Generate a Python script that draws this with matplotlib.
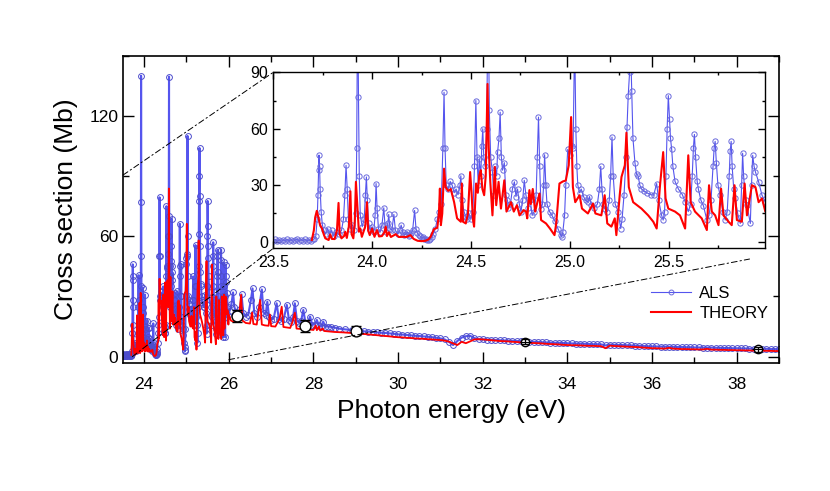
"""ALS photoionization cross section vs. theory, with a zoom of the resonance region.

Run: ``python3 plot.py`` -> out.png
"""

import numpy as np
import matplotlib

matplotlib.use("Agg")
import matplotlib.pyplot as plt  # noqa: E402
from matplotlib.patches import ConnectionPatch  # noqa: E402
from matplotlib.ticker import MultipleLocator  # noqa: E402

plt.rcParams["font.family"] = ["Liberation Sans", "DejaVu Sans"]

# ---- data: (photon energy eV, cross section Mb) ------------------------------------
# ALS measurement, resonance region (vertices of the trace)
als_resonances = [
    (23.50, 0.5), (23.51, 1.2), (23.52, 0.3), (23.53, 1.0), (23.54, 0.2), (23.55, 0.9),
    (23.56, 0.4), (23.57, 1.3), (23.58, 0.5), (23.59, 1.0), (23.60, 0.2), (23.61, 0.8),
    (23.62, 1.2), (23.63, 0.4), (23.64, 1.0), (23.65, 0.6), (23.66, 1.3), (23.67, 0.5),
    (23.68, 0.9), (23.69, 0.3), (23.70, 1.2), (23.708, 1.5), (23.715, 3), (23.722, 12),
    (23.726, 25), (23.729, 38),
    (23.731, 46), (23.734, 40), (23.737, 28), (23.742, 16), (23.748, 9), (23.755, 6),
    (23.765, 4), (23.775, 7), (23.785, 4), (23.795, 6), (23.805, 3), (23.815, 5),
    (23.83, 4), (23.845, 6), (23.855, 12), (23.862, 25), (23.868, 40.6), (23.874, 28),
    (23.88, 12), (23.89, 7), (23.90, 9), (23.91, 6), (23.918, 15), (23.922, 50),
    (23.927, 140), (23.931, 77), (23.935, 35), (23.94, 14), (23.95, 8), (23.96, 12),
    (23.966, 25), (23.971, 34.4), (23.976, 22), (23.982, 10), (23.99, 6), (24.00, 8),
    (24.008, 5), (24.015, 14), (24.020, 30.9), (24.025, 18), (24.032, 7), (24.04, 5),
    (24.05, 9), (24.059, 18), (24.065, 9), (24.072, 5), (24.08, 10), (24.084, 14.5),
    (24.09, 7), (24.10, 6), (24.11, 14.5), (24.118, 6), (24.13, 4), (24.14, 6),
    (24.147, 8.8), (24.155, 5), (24.162, 3.8), (24.17, 4), (24.178, 5.2), (24.185, 3),
    (24.19, 3.5), (24.198, 4.5), (24.205, 6), (24.215, 16.6), (24.222, 7), (24.228, 4.8),
    (24.235, 3.5), (24.242, 3), (24.25, 2), (24.257, 2.4), (24.265, 1.5), (24.272, 1.2),
    (24.28, 1), (24.288, 0.8), (24.295, 1.5), (24.302, 2.5),
    (24.31, 4), (24.32, 7), (24.33, 12), (24.338, 16), (24.35, 20), (24.358, 50),
    (24.364, 79.4), (24.369, 50), (24.375, 30), (24.385, 28), (24.395, 32), (24.405, 30),
    (24.415, 26), (24.425, 28), (24.435, 25), (24.445, 30), (24.449, 35), (24.455, 22),
    (24.465, 16), (24.475, 13), (24.482, 12), (24.49, 15), (24.50, 12), (24.51, 16),
    (24.518, 40), (24.525, 75), (24.531, 45), (24.537, 30), (24.542, 44), (24.55, 35),
    (24.555, 51), (24.56, 60), (24.565, 45), (24.572, 40), (24.58, 60), (24.587, 139.6),
    (24.593, 70), (24.60, 45), (24.609, 37), (24.615, 25), (24.622, 40), (24.63, 35),
    (24.635, 47.6), (24.642, 55), (24.648, 68.8), (24.654, 45), (24.66, 38), (24.669, 42),
    (24.677, 24.7), (24.685, 22), (24.69, 18), (24.70, 20), (24.71, 28), (24.72, 31.8),
    (24.728, 24), (24.736, 28), (24.745, 20), (24.753, 15.9), (24.762, 22), (24.770, 32.6),
    (24.778, 25), (24.79, 18), (24.80, 22), (24.81, 14), (24.82, 16), (24.83, 25),
    (24.836, 45), (24.842, 66.2), (24.848, 40), (24.855, 17.6), (24.862, 20), (24.868, 30),
    (24.873, 46.2), (24.879, 30), (24.885, 20), (24.898, 16), (24.91, 14), (24.925, 11),
    (24.94, 7), (24.955, 3.5), (24.96, 2.6), (24.965, 5), (24.974, 14), (24.98, 30),
    (24.99, 49), (25.00, 46), (25.01, 51), (25.017, 50), (25.025, 110), (25.031, 60),
    (25.036, 40), (25.041, 30), (25.05, 26), (25.058, 28), (25.07, 24), (25.08, 22),
    (25.092, 21), (25.10, 24), (25.11, 19.4), (25.125, 18), (25.14, 20), (25.15, 28),
    (25.157, 40), (25.163, 28), (25.17, 20), (25.177, 17.6), (25.19, 16), (25.20, 22),
    (25.207, 35), (25.214, 55.6), (25.22, 35), (25.23, 20), (25.245, 16), (25.258, 7),
    (25.265, 12), (25.275, 25), (25.285, 45), (25.29, 61), (25.296, 77.6), (25.303, 90),
    (25.308, 104), (25.314, 80), (25.32, 55), (25.33, 42), (25.338, 36), (25.346, 35),
    (25.355, 30), (25.363, 28), (25.375, 27), (25.39, 26), (25.41, 25), (25.425, 24.7),
    (25.44, 30.9), (25.45, 22), (25.465, 14), (25.473, 11.5), (25.48, 16), (25.487, 35),
    (25.493, 60), (25.499, 77.6), (25.505, 65), (25.51, 55), (25.516, 49), (25.522, 40),
    (25.533, 32), (25.55, 28), (25.57, 25), (25.585, 21), (25.60, 16), (25.612, 20),
    (25.62, 35), (25.626, 50), (25.631, 57), (25.637, 45), (25.645, 32), (25.651, 28),
    (25.664, 22), (25.677, 19), (25.694, 11.5), (25.705, 14), (25.715, 22), (25.725, 40),
    (25.731, 50), (25.736, 53.3), (25.742, 42), (25.75, 30), (25.761, 24.7), (25.775, 16),
    (25.787, 11.5), (25.797, 16), (25.807, 35), (25.812, 48), (25.817, 53.3), (25.822, 40),
    (25.83, 28), (25.837, 23), (25.85, 15), (25.863, 9.7), (25.87, 30), (25.875, 47),
    (25.88, 35), (25.89, 22), (25.897, 19.4), (25.914, 9.7), (25.92, 30), (25.926, 45.9),
    (25.933, 40), (25.94, 37), (25.956, 31.8), (25.973, 24.7), (25.99, 21),
]

# ALS, weaker resonances 26-29 eV
als_shoulder = [
    (26.02, 23), (26.06, 26), (26.10, 32), (26.13, 25), (26.17, 22), (26.22, 21),
    (26.27, 24), (26.30, 31), (26.34, 22), (26.40, 20), (26.46, 21), (26.52, 28),
    (26.56, 34), (26.60, 22), (26.66, 20), (26.72, 25), (26.78, 33.5), (26.82, 22),
    (26.87, 21), (26.91, 27.4), (26.95, 20), (27.00, 18.5), (27.06, 19), (27.13, 26.6),
    (27.18, 19), (27.24, 18), (27.30, 19), (27.37, 25.8), (27.42, 18.5), (27.48, 17.5),
    (27.52, 20), (27.56, 26.6), (27.61, 18), (27.66, 17), (27.71, 18), (27.76, 23.3),
    (27.81, 17), (27.86, 16.5), (27.92, 20), (27.97, 16), (28.03, 16), (28.08, 18.3),
    (28.13, 15.5), (28.18, 15), (28.23, 17.5), (28.28, 15), (28.35, 15), (28.42, 14.8),
    (28.50, 14.5), (28.60, 14), (28.75, 13.6), (28.90, 13.3), (29.00, 13.0),
]

# theory, resonance region
theory_resonances = [
    (23.695, 0.9), (23.705, 6), (23.712, 13), (23.72, 16.4), (23.728, 13), (23.736, 9),
    (23.746, 7), (23.755, 4), (23.763, 1.8), (23.78, 0.9), (23.788, 3.9), (23.796, 1.5),
    (23.81, 1.4), (23.822, 6), (23.83, 20.6), (23.836, 4), (23.845, 1.8), (23.858, 3),
    (23.864, 5.3), (23.872, 2), (23.882, 8), (23.89, 26.8), (23.896, 4), (23.905, 1.8),
    (23.912, 10), (23.918, 31.8), (23.925, 19.4), (23.933, 5.3), (23.94, 7), (23.948, 2.6),
    (23.965, 8), (23.974, 21), (23.98, 6), (23.988, 3.5), (24.00, 7), (24.012, 2.6),
    (24.02, 5), (24.025, 6.2), (24.035, 2.8), (24.05, 3), (24.062, 5), (24.069, 8),
    (24.075, 3), (24.085, 5), (24.095, 2.5), (24.12, 4), (24.135, 2.5), (24.155, 2.6),
    (24.175, 2.5), (24.194, 3.5), (24.21, 1.5), (24.23, 0.5), (24.25, 0.3), (24.27, 0.5),
    (24.285, 1.2), (24.296, 2.6), (24.313, 6.7), (24.33, 7.4), (24.338, 15), (24.343, 28.2),
    (24.348, 8.8), (24.355, 15), (24.364, 38.8), (24.372, 29), (24.385, 27), (24.398, 28),
    (24.415, 21), (24.43, 12.4), (24.449, 10.6), (24.454, 30.9), (24.46, 10.6), (24.474, 9.7),
    (24.485, 15), (24.496, 37), (24.503, 26.5), (24.51, 12), (24.516, 8), (24.526, 30.9),
    (24.535, 26), (24.542, 35), (24.55, 38), (24.558, 28), (24.567, 24.7), (24.575, 35),
    (24.584, 83.8), (24.59, 50), (24.598, 31.8), (24.609, 14), (24.621, 39.7), (24.628, 19.4),
    (24.64, 31.8), (24.652, 17.6), (24.669, 32.6), (24.68, 16), (24.703, 21), (24.717, 16),
    (24.733, 19.4), (24.746, 14), (24.767, 16.8), (24.779, 16), (24.785, 12.4), (24.796, 27.4),
    (24.803, 20), (24.813, 28), (24.825, 16), (24.847, 25.6), (24.855, 11.5), (24.88, 9.7),
    (24.90, 7), (24.923, 3.5), (24.932, 10), (24.948, 30.9), (24.965, 32), (24.98, 32.5),
    (24.995, 40.6), (25.007, 66.2), (25.016, 29), (25.028, 21), (25.05, 24.7), (25.062, 17.6),
    (25.092, 15), (25.118, 20.3), (25.13, 15), (25.16, 14), (25.177, 24.7), (25.19, 9.7),
    (25.211, 8), (25.228, 12.4), (25.236, 3.5), (25.253, 24.7), (25.262, 34.4), (25.279, 40.6),
    (25.287, 57.9), (25.299, 29), (25.321, 21), (25.363, 17.6), (25.397, 14), (25.423, 10.6),
    (25.44, 7), (25.457, 30), (25.473, 47.6), (25.485, 23), (25.499, 17.6), (25.533, 16),
    (25.558, 14), (25.584, 7), (25.592, 26.5), (25.60, 45.9), (25.612, 21), (25.634, 16),
    (25.668, 12.4), (25.694, 6.2), (25.705, 30), (25.719, 16), (25.736, 14), (25.753, 8.8),
    (25.766, 28.2), (25.778, 14), (25.804, 10.6), (25.82, 8.8), (25.834, 30), (25.846, 11.5),
    (25.871, 10.6), (25.885, 30.9), (25.897, 14), (25.922, 30), (25.94, 29), (25.956, 21),
    (25.973, 23), (25.99, 16), (26.00, 21),
]

# theory, weaker resonances 26-29 eV
theory_shoulder = [
    (26.05, 18), (26.10, 17.5), (26.20, 17.2), (26.26, 24), (26.29, 30.8), (26.32, 18),
    (26.40, 16.8), (26.50, 16.5), (26.55, 22), (26.58, 16.3), (26.66, 16), (26.71, 24),
    (26.74, 28.3), (26.78, 16), (26.85, 15.6), (26.94, 15.4), (26.97, 21), (27.00, 15.2),
    (27.10, 15), (27.20, 19), (27.25, 24.9), (27.29, 14.8), (27.38, 14.5), (27.45, 14.3),
    (27.50, 17), (27.56, 21.9), (27.60, 14), (27.70, 13.8), (27.75, 15.5), (27.80, 13.7),
    (27.85, 15), (27.88, 17.5), (27.92, 13.5), (28.00, 13.3), (28.05, 15.5), (28.08, 13.2),
    (28.13, 15), (28.16, 13), (28.22, 14), (28.25, 12.8), (28.30, 12.7), (28.40, 12.5),
    (28.50, 12.3), (28.70, 12.1), (28.90, 11.8), (29.00, 11.7),
]

# smooth tail, 0.1 eV steps from 29.1 to 39.0 eV
tail_energy = np.round(np.arange(29.1, 39.05, 0.1), 1)
als_tail = [
    12.8, 12.6, 12.5, 12.3, 12.1, 11.9, 11.8, 11.6, 11.4, 11.1,
    11.0, 10.8, 10.6, 10.4, 10.3, 10.1, 9.9, 9.7, 9.4, 9.1,
    8.6, 7.4, 5.8, 7.8, 9.5, 10.2, 10.4, 9.3, 8.7, 8.6,
    8.5, 8.4, 8.3, 8.2, 8.1, 8.0, 7.9, 7.8, 7.7, 7.6,
    7.5, 7.4, 7.3, 7.2, 7.1, 7.0, 6.9, 6.9, 6.8, 6.7,
    6.6, 6.5, 6.5, 6.4, 6.3, 6.2, 6.2, 6.1, 5.6, 6.0,
    5.9, 5.8, 5.8, 5.7, 5.6, 5.5, 5.4, 5.3, 5.2, 5.1,
    5.1, 5.0, 5.0, 4.9, 4.9, 4.8, 4.8, 4.7, 4.7, 4.6,
    4.6, 4.5, 4.5, 4.5, 4.4, 4.4, 4.3, 4.3, 4.2, 4.2,
    4.1, 4.1, 4.0, 4.0, 3.9, 3.9, 3.9, 3.8, 3.8, 3.7,
]
theory_tail = [
    11.5, 11.3, 11.1, 10.9, 10.7, 10.5, 10.3, 10.1, 9.9, 9.7,
    9.6, 9.4, 9.3, 9.1, 9.0, 8.9, 8.7, 8.6, 8.4, 8.3,
    8.0, 7.5, 6.6, 5.8, 7.4, 6.7, 7.6, 8.6, 8.7, 8.6,
    8.4, 8.2, 8.0, 7.8, 7.7, 7.6, 7.4, 7.3, 7.1, 7.0,
    6.9, 6.8, 6.7, 6.6, 6.4, 6.3, 6.2, 6.1, 5.9, 5.8,
    5.7, 5.7, 5.6, 5.5, 5.4, 5.4, 5.3, 5.2, 4.2, 5.5,
    5.3, 5.2, 5.1, 5.0, 4.9, 4.8, 4.7, 4.5, 4.4, 4.2,
    4.2, 4.1, 4.0, 4.4, 4.0, 3.9, 3.8, 3.8, 3.7, 3.7,
    3.6, 3.6, 3.9, 3.5, 3.5, 3.4, 3.4, 3.3, 3.3, 3.2,
    3.2, 3.1, 3.1, 3.0, 3.0, 3.0, 2.9, 2.9, 2.8, 2.8,
]

# absolute (non-resonant) measurements with error bars
abs_energy = [26.2, 27.8, 29.0, 33.0, 38.5]
abs_mb = [20.3, 15.5, 13.0, 7.5, 3.7]
abs_err = [3.0, 3.0, 2.4, 1.3, 1.3]

ALS_BLUE = "#5555ee"
ALS_EDGE = "#6a6adc"
ALS_EDGE_MAIN = "#4d4dcc"
THEORY_RED = "#ff0000"


def _join(pairs_a, pairs_b, tail_e, tail_y):
    """Stack vertex lists and the tail into energy / value arrays."""
    e = np.concatenate([np.array(pairs_a)[:, 0], np.array(pairs_b)[:, 0], tail_e])
    y = np.concatenate([np.array(pairs_a)[:, 1], np.array(pairs_b)[:, 1], tail_y])
    return e, y


def _draw_series(ax, als, theory, *, red_lw, ms, als_lw, edge):
    als_line, = ax.plot(
        *als, "-", color=ALS_BLUE, lw=als_lw, marker="o", ms=ms,
        mfc="none", mec=edge, mew=0.7, label="ALS",
    )
    th_line, = ax.plot(*theory, "-", color=THEORY_RED, lw=red_lw, label="THEORY")
    return als_line, th_line


def _style_ticks(ax, *, major, minor, size):
    ax.tick_params(which="both", direction="in", top=True, right=True,
                   width=1.0, labelsize=size)
    ax.tick_params(which="major", length=major)
    ax.tick_params(which="minor", length=minor)


def main():
    als = _join(als_resonances, als_shoulder, tail_energy, als_tail)
    theory = _join(theory_resonances, theory_shoulder, tail_energy, theory_tail)

    fig = plt.figure(figsize=(8.3, 4.91), dpi=100)
    ax = fig.add_axes([0.1482, 0.2601, 0.7904, 0.6265])
    axin = fig.add_axes([0.3293, 0.4943, 0.5928, 0.3585])

    # main panel ----------------------------------------------------------------------
    _draw_series(ax, als, theory, red_lw=1.3, ms=4.2, als_lw=1.5, edge=ALS_EDGE_MAIN)
    for i in range(len(abs_energy)):
        inside = abs_err[i] < 2.0  # small bars are drawn across the open circle
        ax.errorbar(
            abs_energy[i], abs_mb[i], yerr=abs_err[i], fmt="o",
            ms=6.0 if inside else 7.8, mfc="white", mec="black", mew=1.0,
            ecolor="black", elinewidth=0.9, capsize=3.5 if not inside else 3.0,
            barsabove=inside, zorder=6,
        )
        if inside:
            ax.errorbar(abs_energy[i], abs_mb[i], xerr=0.13, fmt="none",
                        ecolor="black", elinewidth=0.8, zorder=7)
    ax.set_xlim(23.5, 39.0)
    ax.set_ylim(-3.3, 150)
    ax.xaxis.set_major_locator(MultipleLocator(2))
    ax.xaxis.set_minor_locator(MultipleLocator(1))
    ax.yaxis.set_major_locator(MultipleLocator(60))
    ax.yaxis.set_minor_locator(MultipleLocator(30))
    _style_ticks(ax, major=8, minor=4.5, size=12.5)
    ax.tick_params(axis="x", pad=10)
    for sp in ax.spines.values():
        sp.set_linewidth(1.2)
    ax.set_xlabel("Photon energy (eV)", fontsize=19, labelpad=5)
    ax.set_ylabel("Cross section (Mb)", fontsize=19, labelpad=8)

    # legend built from plain proxies so the ALS key shows one open circle
    als_key, = ax.plot([], [], "-", color=ALS_BLUE, lw=0.8, marker="o", ms=3.5,
                       mfc="none", mec=ALS_EDGE, mew=0.7, label="ALS")
    th_key, = ax.plot([], [], "-", color=THEORY_RED, lw=1.5, label="THEORY")
    ax.legend(
        handles=[als_key, th_key], loc="upper left", bbox_to_anchor=(0.782, 0.30),
        frameon=False, fontsize=12, numpoints=1, handlelength=2.4,
        handletextpad=0.5, labelspacing=0.3,
    )

    # inset ---------------------------------------------------------------------------
    _draw_series(axin, als, theory, red_lw=1.5, ms=3.8, als_lw=0.8, edge=ALS_EDGE)
    axin.set_xlim(23.5, 25.99)
    axin.set_ylim(-3.5, 90)
    axin.xaxis.set_major_locator(MultipleLocator(0.5))
    axin.xaxis.set_minor_locator(MultipleLocator(0.25))
    axin.yaxis.set_major_locator(MultipleLocator(30))
    axin.yaxis.set_minor_locator(MultipleLocator(15))
    _style_ticks(axin, major=5, minor=2.5, size=11.5)
    axin.tick_params(axis="x", pad=5)
    for sp in axin.spines.values():
        sp.set_linewidth(1.0)

    # dash-dot guides from the zoomed window to the inset ------------------------------
    guides = [
        ((23.5, 90.5), (23.5, 90)),
        ((23.72, 0.0), (23.5, -3.5)),
        ((26.0, -1.5), (25.91, -9.2)),
    ]
    for xy_main, xy_inset in guides:
        con = ConnectionPatch(
            xyA=xy_main, coordsA=ax.transData, xyB=xy_inset, coordsB=axin.transData,
            color="black", lw=0.7, linestyle=(0, (6, 3, 1.5, 3)), zorder=4,
        )
        fig.add_artist(con)

    fig.savefig("out.png", dpi=100)
    plt.close(fig)


if __name__ == "__main__":
    main()
